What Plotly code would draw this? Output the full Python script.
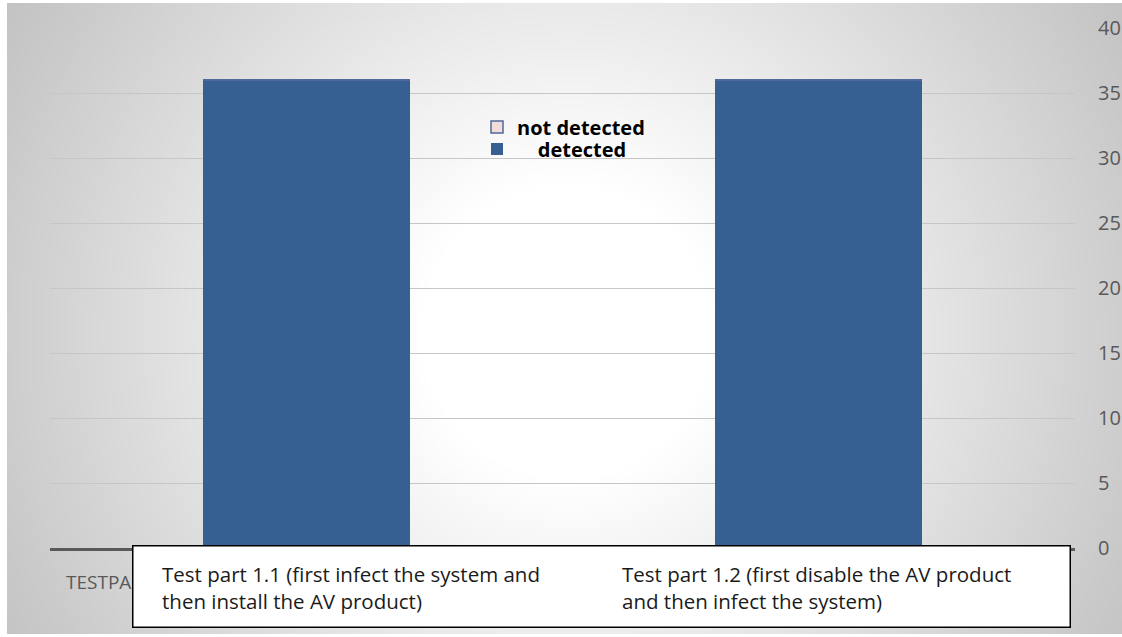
import base64
import struct
import zlib

import numpy as np
import plotly.graph_objects as go

# ---- data -------------------------------------------------------------
categories = [
    "Test part 1.1 (first infect the system and<br>then install the AV product)",
    "Test part 1.2 (first disable the AV product<br>and then infect the system)",
]
detected = [36, 36]
not_detected = [0, 0]
y_ticks = [0, 5, 10, 15, 20, 25, 30, 35, 40]
axis_caption = "TESTPART 1.1"

W, H = 1122, 637


def px_x(p):
    return p / W


def px_y(p):
    return 1 - p / H


# ---- radial grey background as a small PNG -----------------------------
def radial_png(w, h):
    yy, xx = np.mgrid[0:h, 0:w]
    sx, sy = 1115 / w, 631 / h
    d = np.hypot(xx * sx - 558, yy * sy - 327)
    v = 255 - 60 * np.clip((d - 150) / 500, 0, 1)
    img = v.astype(np.uint8)
    raw = b"".join(b"\x00" + img[r].tobytes() for r in range(h))

    def chunk(tag, data):
        c = tag + data
        return struct.pack(">I", len(data)) + c + struct.pack(">I", zlib.crc32(c) & 0xFFFFFFFF)

    png = b"\x89PNG\r\n\x1a\n"
    png += chunk(b"IHDR", struct.pack(">IIBBBBB", w, h, 8, 0, 0, 0, 0))
    png += chunk(b"IDAT", zlib.compress(raw, 9))
    png += chunk(b"IEND", b"")
    return "data:image/png;base64," + base64.b64encode(png).decode()


FONT = "Open Sans"
BAR_BLUE = "#366092"
NBSP = "\u00a0"

fig = go.Figure()
fig.add_trace(go.Bar(
    x=[0, 1], y=detected, name=NBSP * 4 + "detected", legend="legend2",
    marker=dict(color=BAR_BLUE, line=dict(width=0)), width=0.404,
))
fig.add_trace(go.Bar(
    x=[0, 1], y=not_detected, name="not detected", legend="legend",
    marker=dict(color="#F2DCDB", line=dict(color="#4F6A9A", width=1.5)), width=0.404,
))

legend_font = dict(family=FONT, size=20, color="black", weight="bold")
legend_common = dict(
    xanchor="left", yanchor="middle", bgcolor="rgba(0,0,0,0)",
    borderwidth=0, font=legend_font,
)

fig.update_layout(
    width=W, height=H,
    autosize=False,
    margin=dict(l=0, r=0, t=0, b=0, autoexpand=False),
    paper_bgcolor="white",
    plot_bgcolor="rgba(0,0,0,0)",
    barmode="stack",
    font=dict(family=FONT, color="#595959"),
    showlegend=True,
    legend=dict(x=px_x(477), y=px_y(127), **legend_common),
    legend2=dict(x=px_x(477), y=px_y(149), **legend_common),
    xaxis=dict(
        domain=[px_x(50), px_x(1075)],
        range=[-0.5, 1.5],
        automargin=False,
        showticklabels=False, showgrid=False, zeroline=False,
        showline=True, linecolor="#595959", linewidth=3,
        fixedrange=True,
    ),
    yaxis=dict(
        domain=[px_y(548), px_y(28)],
        range=[0, 40],
        automargin=False,
        side="right",
        tickvals=y_ticks,
        showgrid=True, gridcolor="#C6C6C6", gridwidth=1.3,
        zeroline=False, showline=False,
        ticks="outside", ticklen=18, tickcolor="rgba(0,0,0,0)",
        tickfont=dict(family=FONT, size=20, color="#595959"),
        fixedrange=True,
    ),
    images=[dict(
        source=radial_png(280, 160), xref="paper", yref="paper",
        x=px_x(7), y=px_y(3), sizex=px_x(1115), sizey=631 / H,
        xanchor="left", yanchor="top", sizing="stretch", layer="below",
    )],
)

annotations = [
    # category axis caption, partly hidden behind the label box
    dict(text=axis_caption, xref="paper", yref="paper",
         x=px_x(64), y=px_y(582), xanchor="left", yanchor="middle",
         showarrow=False, font=dict(family=FONT, size=19, color="#595959")),
    # white label box
    dict(text=" ", xref="paper", yref="paper",
         x=px_x(132), y=px_y(545), xanchor="left", yanchor="top",
         width=936, height=80, bgcolor="white", bordercolor="black",
         borderwidth=1.5, borderpad=0, showarrow=False),
]
label_x = [160, 620]
for cat, lx in zip(categories, label_x):
    annotations.append(dict(
        text=cat, xref="paper", yref="paper",
        x=px_x(lx), y=px_y(587), xanchor="left", yanchor="middle",
        align="left", showarrow=False,
        font=dict(family=FONT, size=20.5, color="#1a1a1a"),
    ))
fig.update_layout(annotations=annotations)

fig.write_html("out.html")
